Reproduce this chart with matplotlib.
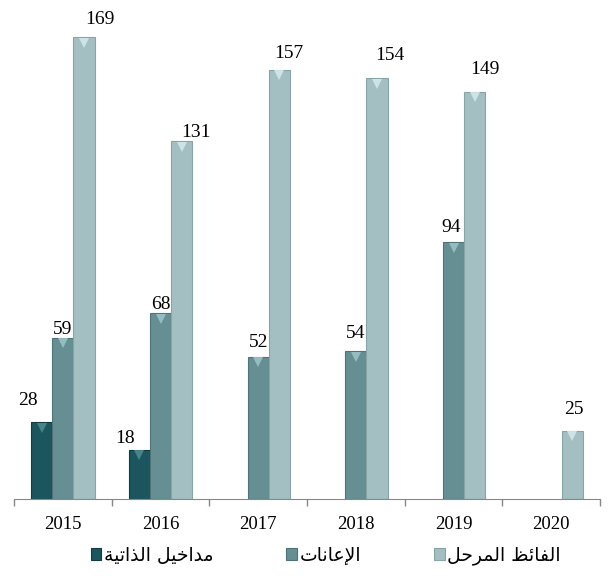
import numpy as np
import matplotlib.pyplot as plt
import matplotlib.transforms as mtransforms

years = ['2015', '2016', '2017', '2018', '2019', '2020']

# Arabic labels written with presentation forms in visual order (matplotlib does not shape Arabic)
# مداخيل الذاتية / الإعانات / الفائض المرحل
lbl_own = '\uFE94\uFEF4\uFE97\uFE8D\uFEAC\uFEDF\uFE8D \uFEDE\uFEF4\uFEA7\uFE8D\uFEAA\uFEE3'
lbl_grants = '\uFE95\uFE8E\uFEE7\uFE8E\uFECB\uFEF9\uFE8D'
lbl_surplus = '\uFEDE\uFEA3\uFEAE\uFEE4\uFEDF\uFE8D \uFEC6\uFE8B\uFE8E\uFED4\uFEDF\uFE8D'

own_income = [28, 18, None, None, None, None]
grants = [59, 68, 52, 54, 94, None]
surplus = [169, 131, 157, 154, 149, 25]

colors = ['#1b555d', '#668f93', '#a3bfc1']
edges = ['#123c42', '#4f7377', '#87a4a6']
tops = ['#4f8c94', '#9cc6ca', '#d6eaec']

# label nudges in points (dx, dy) to mimic the original placement
nudges = [
    [(-10, 9.5), (-10, 2), None, None, None, None],
    [(0, 0), (0, 0), (0, 4), (0, 6.5), (-1.4, 4.7), None],
    [(11.5, 6.5), (10, 0), (6.5, 5.5), (9.4, 10.5), (7.2, 10), (1, 9)],
]

fig = plt.figure(figsize=(6.12, 5.76), dpi=100)
ax = fig.add_axes([0.0229, 0.1337, 0.9575, 0.854])

x = np.arange(len(years))
w = 0.218
series = [own_income, grants, surplus]
names = [lbl_own, lbl_grants, lbl_surplus]

handles = []
for i, vals in enumerate(series):
    xs = [xi + (i - 1) * w for xi, v in zip(x, vals) if v is not None]
    vs = [v for v in vals if v is not None]
    b = ax.bar(xs, vs, width=w, color=colors[i], edgecolor=edges[i],
               linewidth=0.8, label=names[i], zorder=2)
    handles.append(b)
    # light bevel at the top of each bar
    shift = mtransforms.offset_copy(ax.transData, fig=fig, x=0, y=-4, units='points')
    ax.plot(xs, vs, linestyle='none', marker='v', markersize=7,
            color=tops[i], markeredgewidth=0, alpha=0.85, transform=shift, zorder=3)
    for xi, v, nd in zip(x, vals, nudges[i]):
        if v is None:
            continue
        ax.annotate(str(v), (xi + (i - 1) * w, v), xytext=nd,
                    textcoords='offset points', ha='center', va='bottom',
                    fontsize=14, family='Liberation Serif')

ax.set_xlim(-0.5, len(years) - 0.5)
ax.set_ylim(0, 180)
ax.set_xticks(x)
ax.set_xticklabels(years, fontsize=13.5, family='Liberation Serif')
ax.set_xticks(np.arange(len(years) + 1) - 0.5, minor=True)
ax.tick_params(axis='x', which='major', length=0, pad=12)
ax.tick_params(axis='x', which='minor', length=5, color='#888888', width=1)
ax.set_yticks([])
for s in ['left', 'right', 'top']:
    ax.spines[s].set_visible(False)
ax.spines['bottom'].set_color('#888888')

ax.legend(handles=handles, loc='center', bbox_to_anchor=(0.532, -0.115),
          ncol=3, frameon=False, handlelength=0.55, handleheight=0.55,
          handletextpad=0.15, columnspacing=3.9,
          prop={'family': 'DejaVu Sans', 'size': 13.5})

fig.savefig('out.png', dpi=100)
